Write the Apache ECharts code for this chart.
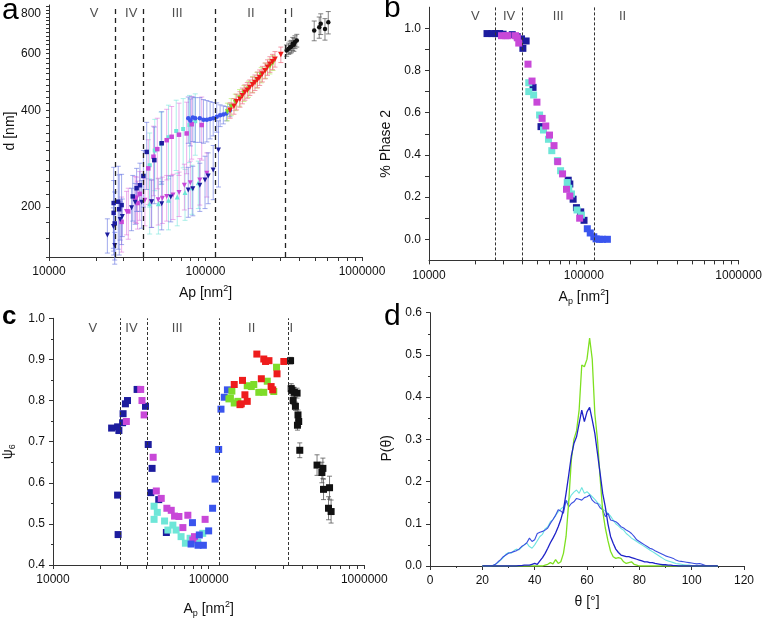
<!DOCTYPE html>
<html><head><meta charset="utf-8">
<script src="https://cdn.jsdelivr.net/npm/echarts@6/dist/echarts.min.js"></script>
<style>html,body{margin:0;padding:0;background:#fff}#c{width:765px;height:619px}</style>
</head><body><div id="c"></div><script>
// ---------- tick labels ----------
const logXLabels = [10000, 100000, 1000000];
const logXTicks = [10000,20000,30000,40000,50000,60000,70000,80000,90000,100000,200000,300000,400000,500000,600000,700000,800000,900000,1000000];
const aYLabels = [200, 400, 600, 800];
const aYTicks = [140,160,180,200,220,240,260,280,300,320,340,360,380,400,420,440,460,480,500,520,540,560,580,600,620,640,660,680,700,720,740,760,780,800,820,840];
const bYLabels = [0, 0.2, 0.4, 0.6, 0.8, 1.0];
const bYTicks = [0, 0.1, 0.2, 0.3, 0.4, 0.5, 0.6, 0.7, 0.8, 0.9, 1.0];
const regionNames = ['V', 'IV', 'III', 'II', 'I'];
const regionBounds = [26700, 39800, 116000, 325000];
const regionLabelX = [19400, 33500, 66000, 195000, 355000];

// ---------- panel a : d vs Ap ----------
const aNavySqX = [25900, 25900, 26300, 27700, 28100, 29100, 34300, 36300, 38100, 40100, 42100, 47100, 52500];
const aNavySqY = [206, 192, 178, 208, 197, 203, 216, 229, 234, 250, 297, 280, 316];
const aNavySqE = [60, 50, 45, 60, 55, 50, 35, 35, 40, 50, 70, 75, 80];
const aBlueX = [77600, 80000, 83000, 86000, 92000, 97000, 102000, 107000, 112000, 118000, 124000, 130000, 136000, 143000];
const aBlueY = [378, 372, 380, 378, 378, 374, 374, 376, 378, 382, 386, 388, 391, 400];
const aBlueE = [62, 62, 60, 60, 60, 58, 55, 50, 45, 40, 30, 25, 20, 18];
const aMagSqX = [29100, 32100, 35500, 36800, 38000, 43100, 46500, 49200, 56500, 60800, 67700, 75800, 81600, 94600];
const aMagSqY = [180, 194, 214, 206, 220, 264, 287, 303, 323, 331, 336, 339, 362, 360];
const aMagSqE = [35, 35, 35, 35, 38, 60, 70, 75, 80, 80, 85, 85, 80, 80];
const aCyanUpX = [44000, 47400, 52000, 58000, 65000, 72000, 79000, 86000];
const aCyanUpY = [270, 300, 315, 330, 345, 350, 360, 370];
const aCyanUpE = [70, 75, 80, 85, 85, 85, 85, 80];
const aCyanLoX = [44000, 50000, 58000, 66000, 74000, 82000, 90000];
const aCyanLoY = [205, 205, 210, 215, 222, 230, 238];
const aCyanLoE = [40, 40, 40, 40, 40, 40, 40];
const aMagTriX = [31300, 36300, 41000, 45000, 49900, 53000, 56500, 62000, 67800, 73300, 80000, 92000, 102000];
const aMagTriY = [194, 213, 210, 208, 211, 213, 216, 218, 222, 234, 238, 243, 255];
const aMagTriE = [30, 35, 35, 35, 35, 35, 35, 35, 35, 38, 40, 40, 40];
const aNavyTriX = [23600, 25800, 26300, 28500, 29400, 33700, 35500, 39100, 45300, 52500, 60000, 77600, 83000, 92000, 99300, 104000, 112000, 121000];
const aNavyTriY = [164, 174, 152, 183, 187, 199, 207, 207, 208, 205, 215, 226, 228, 234, 243, 250, 261, 301];
const aNavyTriE = [20, 25, 15, 25, 25, 30, 30, 35, 35, 35, 35, 40, 40, 40, 45, 45, 50, 70];
const aGreenX = [138000, 146000, 155000, 165000, 176000, 188000, 200000, 213000, 227000, 242000, 258000, 270000];
const aGreenY = [396, 410, 424, 438, 452, 466, 482, 497, 515, 532, 548, 562];
const aGreenE = [25, 25, 25, 26, 26, 27, 27, 28, 28, 29, 29, 30];
const aRedX = [143600, 152000, 158000, 166000, 172000, 178500, 185000, 192000, 200000, 207000, 215000, 222000, 231000, 240000, 249000, 258000, 268000, 278000, 303000];
const aRedY = [400, 412, 425, 433, 444, 455, 462, 471, 480, 488, 498, 506, 519, 531, 544, 556, 566, 577, 596];
const aRedE = [22, 23, 24, 24, 25, 25, 26, 26, 27, 27, 28, 28, 29, 30, 30, 31, 31, 32, 33];
const aBlackX = [330000, 340000, 347000, 354000, 361000, 367000, 373000, 383000, 495000, 533000, 545000, 580000, 609000];
const aBlackY = [614, 622, 628, 632, 644, 640, 652, 659, 708, 725, 743, 716, 751];
const aBlackE = [25, 25, 28, 28, 30, 30, 30, 30, 50, 55, 55, 55, 60];

// ---------- panel b : % phase 2 ----------
const bNavyX = [23700, 25500, 27000, 28600, 30100, 34500, 37200, 39600, 40400, 42400, 47000, 52900, 79300, 81200, 85300, 89600, 95500, 100300];
const bNavyY = [0.975, 0.975, 0.975, 0.975, 0.972, 0.97, 0.96, 0.95, 0.905, 0.94, 0.72, 0.534, 0.28, 0.262, 0.19, 0.15, 0.13, 0.09];
const bBlueX = [105300, 110000, 116000, 120000, 126000, 132000, 142000];
const bBlueY = [0.05, 0.03, 0.012, 0.002, 0.0, 0.0, 0.0];
const bMagX = [29400, 31300, 32400, 36200, 37200, 38000, 43600, 46300, 49800, 53800, 56800, 60000, 64200, 67800, 72900, 77300, 81200, 94000];
const bMagY = [0.965, 0.965, 0.965, 0.965, 0.955, 0.93, 0.83, 0.75, 0.65, 0.573, 0.537, 0.494, 0.444, 0.368, 0.31, 0.237, 0.205, 0.10];
const bCyanX = [44100, 44100, 47400, 51800, 54900, 59100, 62100, 67500, 70800, 78100, 80000, 83200, 90400, 96400];
const bCyanY = [0.742, 0.70, 0.684, 0.589, 0.518, 0.474, 0.42, 0.373, 0.325, 0.269, 0.242, 0.215, 0.139, 0.115];

// ---------- panel c : psi6 ----------
const cNavyX = [23800, 26000, 26500, 26000, 26200, 28000, 28200, 29200, 30100, 34700, 39300, 40900, 43300, 42500, 47800, 53500];
const cNavyY = [0.733, 0.736, 0.727, 0.570, 0.474, 0.746, 0.768, 0.792, 0.80, 0.827, 0.786, 0.693, 0.635, 0.576, 0.559, 0.479];
const cMagX = [29600, 36600, 37300, 38500, 44000, 46100, 49600, 53900, 57500, 60400, 64400, 68300, 73500, 79100, 81100, 94900];
const cMagY = [0.749, 0.827, 0.80, 0.765, 0.662, 0.58, 0.562, 0.538, 0.533, 0.519, 0.518, 0.491, 0.521, 0.461, 0.469, 0.511];
const cCyanX = [44600, 44600, 46800, 52100, 54700, 58900, 61800, 66500, 70900, 76000, 85100, 91600];
const cCyanY = [0.543, 0.511, 0.528, 0.507, 0.485, 0.497, 0.485, 0.469, 0.453, 0.465, 0.455, 0.477];
const cBlueX = [77100, 78700, 85500, 87100, 92500, 100000, 106000, 110000, 116000, 120000, 126000, 132000];
const cBlueY = [0.451, 0.503, 0.448, 0.473, 0.448, 0.483, 0.538, 0.609, 0.681, 0.779, 0.808, 0.826];
const cGreenX = [135000, 138000, 141000, 146000, 154000, 177000, 188000, 195000, 210000, 226000, 238000, 262000, 273000];
const cGreenY = [0.804, 0.806, 0.823, 0.794, 0.798, 0.836, 0.834, 0.839, 0.82, 0.82, 0.847, 0.822, 0.881];
const cRedX = [146000, 159000, 162000, 165000, 171000, 177000, 204000, 218000, 226000, 232000, 244000, 252000, 258000, 275000, 304000];
const cRedY = [0.839, 0.79, 0.792, 0.849, 0.814, 0.798, 0.913, 0.853, 0.901, 0.895, 0.897, 0.834, 0.826, 0.865, 0.895];
const cBlackX = [336000, 339000, 343000, 349000, 355000, 361000, 370000, 375000, 379000, 372000, 385000, 497000, 534000, 542000, 547000, 589000, 598000, 612000];
const cBlackY = [0.897, 0.829, 0.825, 0.80, 0.82, 0.786, 0.818, 0.765, 0.749, 0.74, 0.679, 0.643, 0.625, 0.635, 0.584, 0.538, 0.588, 0.530];
const cBlackE = [0.008, 0.012, 0.012, 0.01, 0.012, 0.01, 0.012, 0.012, 0.012, 0.012, 0.018, 0.025, 0.025, 0.025, 0.025, 0.028, 0.028, 0.028];

// ---------- panel d : P(theta) ----------
const theta = [20,21,22,23,24,25,26,27,28,29,30,31,32,33,34,35,36,37,38,39,40,41,42,43,44,45,46,47,48,49,50,51,52,53,54,55,56,57,58,59,60,61,62,63,64,65,66,67,68,69,70,71,72,73,74,75,76,77,78,79,80,81,82,83,84,85,86,87,88,89,90,91,92,93,94,95,96,97,98,99,100,101,102,103,104,105,106,107,108,109,110];
const pNavy = [0,0,0,0,0,0,0,0,0,0, 0,0,0,0,0.001,0.001,0.002,0.002,0.002,0.004, 0.006,0.004,0.012,0.02,0.03,0.042,0.055,0.066,0.078,0.093, 0.11,0.133,0.172,0.215,0.26,0.29,0.306,0.338,0.369,0.342, 0.365,0.376,0.346,0.314,0.267,0.22,0.172,0.14,0.1,0.07, 0.054,0.04,0.032,0.026,0.024,0.022,0.022,0.02,0.018,0.016, 0.014,0.012,0.01,0.01,0.008,0.008,0.006,0.005,0.004,0.003, 0.003,0.002,0.002,0.001,0.001,0,0,0,0,0, 0,0,0,0,0,0,0,0,0,0,0];
const pGreen = [0,0,0,0,0,0,0,0,0,0, 0,0,0,0,0,0,0,0,0,0, 0,0,0,0,0.002,0.004,0.008,0.005,0.015,0.006, 0.01,0.03,0.07,0.15,0.25,0.30,0.32,0.37,0.476,0.472, 0.49,0.54,0.49,0.36,0.30,0.21,0.13,0.09,0.06,0.035, 0.022,0.018,0.02,0.018,0.01,0.006,0.008,0.01,0.004,0.002, 0,0,0,0,0,0,0,0,0,0, 0,0,0,0,0,0,0,0,0,0, 0,0,0,0,0,0,0,0,0,0,0];
const pCyan = [0,0,0,0,0.001,0.004,0.008,0.014,0.02,0.028, 0.032,0.03,0.036,0.04,0.038,0.044,0.05,0.054,0.046,0.042, 0.05,0.06,0.07,0.075,0.088,0.093,0.105,0.11,0.12,0.128, 0.135,0.14,0.15,0.155,0.168,0.175,0.18,0.172,0.186,0.172, 0.176,0.17,0.164,0.158,0.15,0.145,0.135,0.13,0.125,0.118, 0.109,0.1,0.095,0.089,0.085,0.077,0.072,0.066,0.062,0.058, 0.054,0.05,0.046,0.042,0.038,0.034,0.03,0.026,0.022,0.018, 0.014,0.012,0.01,0.008,0.006,0.005,0.004,0.003,0.002,0.002, 0.001,0,0,0,0,0,0,0,0,0,0];
const pBlue = [0,0,0,0,0.001,0.004,0.01,0.015,0.022,0.026, 0.03,0.032,0.034,0.036,0.04,0.046,0.05,0.055,0.066,0.058, 0.062,0.077,0.08,0.082,0.085,0.09,0.101,0.11,0.12,0.133, 0.13,0.125,0.156,0.14,0.148,0.152,0.16,0.158,0.156,0.162, 0.164,0.168,0.156,0.15,0.148,0.138,0.133,0.117,0.125,0.109, 0.107,0.105,0.1,0.093,0.09,0.085,0.082,0.077,0.07,0.062, 0.058,0.054,0.05,0.046,0.042,0.04,0.036,0.033,0.03,0.027, 0.024,0.022,0.02,0.018,0.014,0.012,0.011,0.01,0.009,0.008, 0.007,0.006,0.005,0.006,0.004,0.002,0,0,0,0,0];

// ---------- build ----------
const FONT = '"Liberation Sans", Arial, sans-serif';
const C = {navy:'#1c1c9e', blue:'#3a55ee', mag:'#c848d8', cyan:'#6ee6d8', red:'#ee1c1c', green:'#7edc2a', black:'#111111'};
const pts = (xs, ys) => xs.map((x, i) => [x, ys[i]]);
const epts = (xs, ys, es) => xs.map((x, i) => [x, ys[i], es[i]]);

function axis(o) {
  const base = {
    axisLine: {show: true, onZero: false, lineStyle: {color: '#333', width: 1}},
    axisTick: {show: true, inside: false, length: 4, lineStyle: {color: '#333', width: 1}},
    minorTick: {show: false},
    splitLine: {show: false},
    axisLabel: {color: '#111', fontSize: 12, fontFamily: FONT, margin: 8},
    nameLocation: 'middle',
    nameTextStyle: {color: '#111', fontSize: 14, fontFamily: FONT,
      rich: {n: {fontSize: 14, fontFamily: FONT, color: '#111', lineHeight: 18},
             s: {fontSize: 9, fontFamily: FONT, color: '#111', lineHeight: 9, verticalAlign: 'bottom'},
             u: {fontSize: 9, fontFamily: FONT, color: '#111', lineHeight: 9, verticalAlign: 'top'}}}
  };
  const r = Object.assign({}, base, o);
  ['axisLine', 'axisTick', 'axisLabel', 'nameTextStyle', 'minorTick'].forEach(k => {
    if (o[k]) r[k] = Object.assign({}, base[k], o[k]);
  });
  return r;
}

const logFmt = v => String(Math.round(v));
const logX = (gi, name, gap) => axis({type: 'log', logBase: 10, gridIndex: gi, min: 10000, max: 1000000,
  axisTick: {customValues: logXTicks}, axisLabel: {customValues: logXLabels, formatter: logFmt, margin: 9},
  name: name, nameGap: gap});

const grids = [
  {left: 49, top: 5, width: 313, height: 252},
  {left: 429, top: 7.2, width: 314, height: 253.2},
  {left: 51, top: 318.3, width: 313.3, height: 252.4},
  {left: 430, top: 312.7, width: 314, height: 253.3}
];

const xAxes = [
  logX(0, '{n|Ap [nm}{u|2}{n|]}', 27),
  logX(1, '{n|A}{s|p}{n| [nm}{u|2}{n|]}', 28),
  logX(2, '{n|A}{s|p}{n| [nm}{u|2}{n|]}', 35),
  axis({type: 'value', gridIndex: 3, min: 0, max: 120, interval: 20, minorTick: {show: true, splitNumber: 2, length: 2, lineStyle: {color: '#333'}},
    axisLabel: {margin: 9}, name: 'θ [°]', nameGap: 29})
];
const yAxes = [
  axis({type: 'log', logBase: 10, gridIndex: 0, min: 140, max: 850,
    axisTick: {customValues: aYTicks, length: 3}, axisLabel: {customValues: aYLabels, formatter: logFmt},
    name: 'd [nm]', nameGap: 32}),
  axis({type: 'value', gridIndex: 1, min: -0.1, max: 1.1,
    axisTick: {customValues: bYTicks}, axisLabel: {customValues: bYLabels, formatter: v => v.toFixed(1)},
    name: '% Phase 2', nameGap: 36, nameTextStyle: {padding: [0, 20, 0, 0]}}),
  axis({type: 'value', gridIndex: 2, min: 0.4, max: 1.0, interval: 0.1,
    minorTick: {show: true, splitNumber: 2, length: 2, lineStyle: {color: '#333'}},
    axisLabel: {formatter: v => v.toFixed(1)},
    name: '{n|ψ}{s|6}', nameGap: 36, nameTextStyle: {padding: [0, 20, 0, 0]}}),
  axis({type: 'value', gridIndex: 3, min: 0, max: 0.6, interval: 0.1,
    minorTick: {show: true, splitNumber: 2, length: 2, lineStyle: {color: '#333'}},
    axisLabel: {formatter: v => v.toFixed(1)},
    name: 'P(θ)', nameGap: 36, nameTextStyle: {padding: [0, 18, 0, 0]}})
];

const series = [];

function errSeries(gi, data, color, capW, width) {
  series.push({
    type: 'custom', xAxisIndex: gi, yAxisIndex: gi, data: data, silent: true, z: 2,
    encode: {x: 0, y: 1},
    renderItem: function (params, api) {
      const x = api.value(0), y = api.value(1), e = api.value(2);
      const t = api.coord([x, y + e]);
      const b = api.coord([x, y - e]);
      const st = {stroke: color, lineWidth: width || 1};
      return {type: 'group', children: [
        {type: 'line', shape: {x1: t[0], y1: t[1], x2: b[0], y2: b[1]}, style: st},
        {type: 'line', shape: {x1: t[0] - capW, y1: t[1], x2: t[0] + capW, y2: t[1]}, style: st},
        {type: 'line', shape: {x1: b[0] - capW, y1: b[1], x2: b[0] + capW, y2: b[1]}, style: st}
      ]};
    }
  });
}
function scat(gi, data, color, symbol, size, z) {
  series.push({type: 'scatter', xAxisIndex: gi, yAxisIndex: gi, data: data, symbol: symbol, symbolSize: size,
    itemStyle: {color: color, opacity: 1}, z: z || 3, silent: true, animation: false});
}
function regions(gi, names, xs, y, lines, dash, lw, lineColor) {
  series.push({type: 'scatter', xAxisIndex: gi, yAxisIndex: gi, symbolSize: 1, silent: true, z: 4,
    itemStyle: {color: 'rgba(0,0,0,0)'},
    data: names.map((n, i) => [xs[i], y, n]),
    label: {show: true, position: 'inside', formatter: p => p.data[2], color: '#222', fontSize: 13, fontFamily: FONT},
    markLine: {silent: true, symbol: ['none', 'none'], label: {show: false}, animation: false,
      lineStyle: {type: dash, color: lineColor, width: lw},
      data: lines.map(v => ({xAxis: v}))}
  });
}

// panel a
const ea = 'rgba(100,115,225,0.6)';
errSeries(0, epts(aCyanUpX, aCyanUpY, aCyanUpE), 'rgba(120,230,220,0.6)', 2.5);
errSeries(0, epts(aCyanLoX, aCyanLoY, aCyanLoE), 'rgba(120,230,220,0.6)', 2.5);
errSeries(0, epts(aMagSqX, aMagSqY, aMagSqE), 'rgba(220,110,220,0.55)', 2.5);
errSeries(0, epts(aMagTriX, aMagTriY, aMagTriE), 'rgba(220,110,220,0.55)', 2.5);
errSeries(0, epts(aNavySqX, aNavySqY, aNavySqE), ea, 2.5);
errSeries(0, epts(aBlueX, aBlueY, aBlueE), ea, 2.5);
errSeries(0, epts(aNavyTriX, aNavyTriY, aNavyTriE), ea, 2.5);
errSeries(0, epts(aGreenX, aGreenY, aGreenE), 'rgba(170,235,80,0.6)', 2.5);
errSeries(0, epts(aRedX, aRedY, aRedE), 'rgba(240,110,130,0.7)', 2.5);
errSeries(0, epts(aBlackX, aBlackY, aBlackE), 'rgba(80,80,80,0.7)', 2.5);
scat(0, pts(aCyanUpX, aCyanUpY), C.cyan, 'rect', 4);
scat(0, pts(aCyanLoX, aCyanLoY), C.cyan, 'triangle', 5);
scat(0, pts(aMagSqX, aMagSqY), C.mag, 'rect', 4.5);
scat(0, pts(aMagTriX, aMagTriY), C.mag, 'path://M0,0L10,0L5,9Z', 5);
scat(0, pts(aNavySqX, aNavySqY), C.navy, 'rect', 4.5);
scat(0, pts(aNavyTriX, aNavyTriY), C.navy, 'path://M0,0L10,0L5,9Z', 5);
scat(0, pts(aBlueX, aBlueY), C.blue, 'circle', 4.5);
scat(0, pts(aGreenX, aGreenY), C.green, 'path://M0,0L10,0L5,9Z', 5);
scat(0, pts(aRedX, aRedY), C.red, 'path://M0,0L10,0L5,9Z', 5.5);
scat(0, pts(aBlackX, aBlackY), C.black, 'circle', 4.5);
regions(0, regionNames, regionLabelX, 800, regionBounds, [5, 4], 1.3, '#222');

// panel b
scat(1, pts(bNavyX, bNavyY), C.navy, 'rect', 7);
scat(1, pts(bBlueX, bBlueY), C.blue, 'rect', 7);
scat(1, pts(bCyanX, bCyanY), C.cyan, 'rect', 7);
scat(1, pts(bMagX, bMagY), C.mag, 'rect', 7);
regions(1, regionNames.slice(0, 4), [19900, 32900, 68400, 178000], 1.055, regionBounds.slice(0, 3), [3, 2], 1, '#333');

// panel c
errSeries(2, epts(cBlackX, cBlackY, cBlackE), 'rgba(80,80,80,0.75)', 2.5);
scat(2, pts(cNavyX, cNavyY), C.navy, 'rect', 7);
scat(2, pts(cCyanX, cCyanY), C.cyan, 'rect', 7);
scat(2, pts(cMagX, cMagY), C.mag, 'rect', 7);
scat(2, pts(cBlueX, cBlueY), C.blue, 'rect', 7);
scat(2, pts(cGreenX, cGreenY), C.green, 'rect', 7);
scat(2, pts(cRedX, cRedY), C.red, 'rect', 7);
scat(2, pts(cBlackX, cBlackY), C.black, 'rect', 7);
regions(2, regionNames, [18000, 31900, 62800, 189000, 340000], 0.975, [27200, 40200, 117000, 327000], [3, 2], 1, '#333');

// panel d
function line(data, color, w, z) {
  series.push({type: 'line', xAxisIndex: 3, yAxisIndex: 3, data: data, showSymbol: false, symbol: 'none',
    lineStyle: {color: color, width: w}, z: z, silent: true, animation: false});
}
line(pts(theta, pCyan), '#6fe4e0', 1.1, 2);
line(pts(theta, pBlue), '#3a4ee0', 1.1, 3);
line(pts(theta, pGreen), '#7ee020', 1.3, 4);
line(pts(theta, pNavy), '#1e22c8', 1.3, 5);

const chart = echarts.init(document.getElementById('c'), null, {renderer: 'canvas'});
chart.setOption({
  animation: false,
  backgroundColor: '#ffffff',
  grid: grids,
  xAxis: xAxes,
  yAxis: yAxes,
  series: series,
  graphic: [
    {type: 'text', left: 2, top: -4, style: {text: 'a', font: '30px ' + FONT, fill: '#000'}},
    {type: 'text', left: 384, top: -6, style: {text: 'b', font: '30px ' + FONT, fill: '#000'}},
    {type: 'text', left: 2, top: 304, style: {text: 'c', font: 'bold 26px ' + FONT, fill: '#000'}},
    {type: 'text', left: 384, top: 302, style: {text: 'd', font: '30px ' + FONT, fill: '#000'}}
  ]
});
</script></body></html>
